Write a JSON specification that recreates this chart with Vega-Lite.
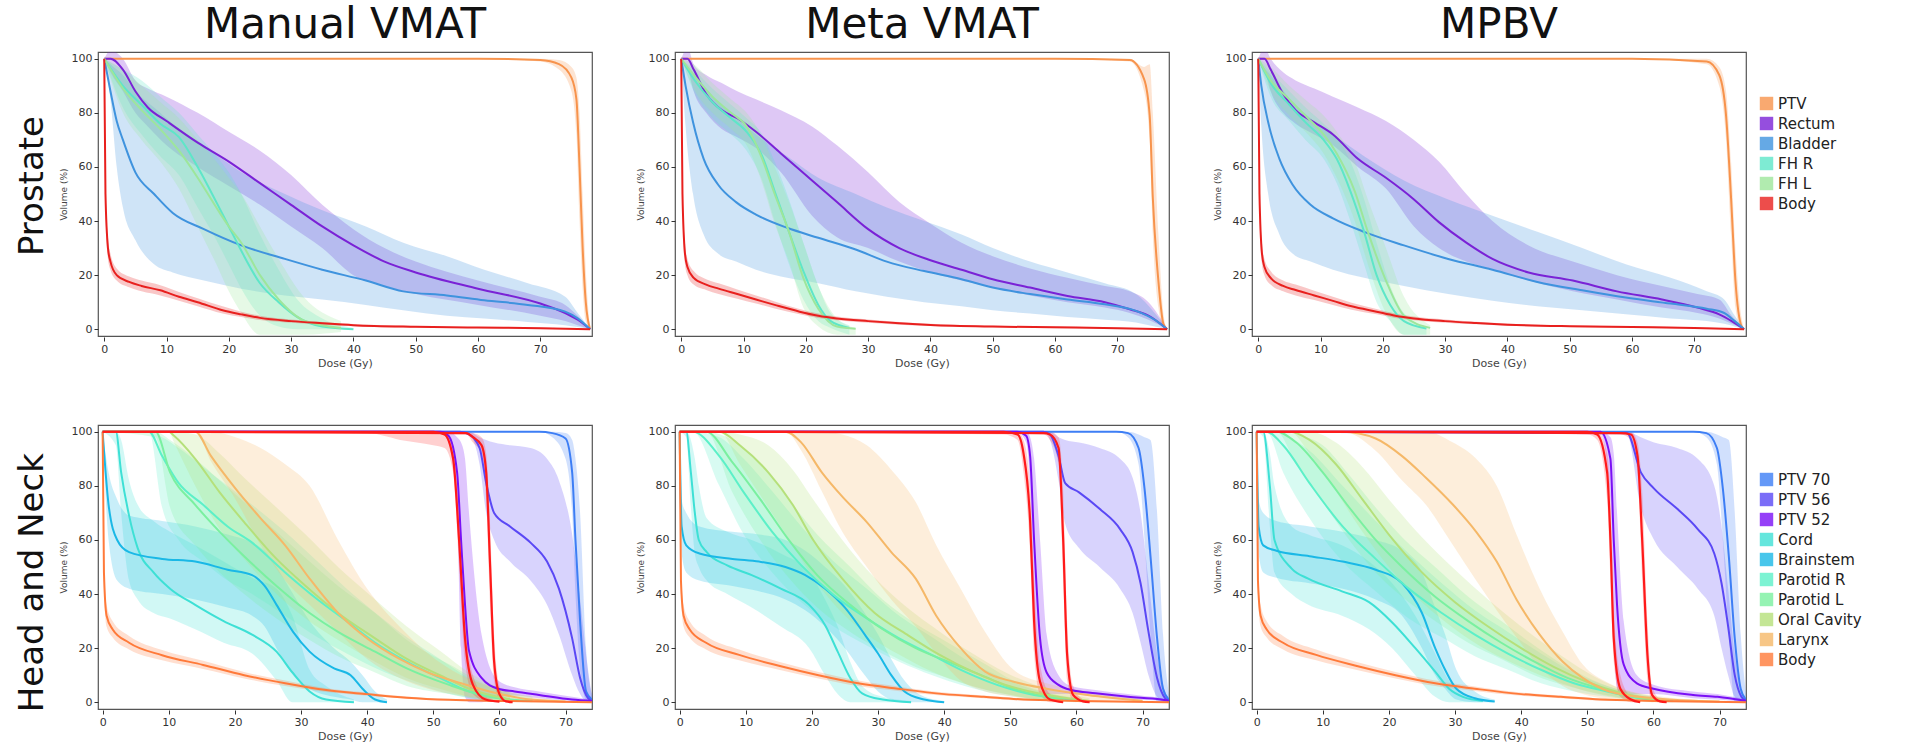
{
"$schema":"https://vega.github.io/schema/vega-lite/v6.json",
"padding":{"left":16,"top":4,"right":2,"bottom":2},
"config":{"font":"DejaVu Sans","view":{"stroke":"#555","strokeWidth":1.2},
"axis":{"grid":false,"domain":false,"labelFontSize":11,"labelColor":"#333","tickColor":"#333","tickSize":4,"titleFontWeight":"normal","titleColor":"#444"},
"header":{"labelFont":"DejaVu Sans","labelColor":"#111"},
"title":{"font":"DejaVu Sans","fontWeight":"normal","color":"#111"},
"legend":{"labelFont":"DejaVu Sans","labelColor":"#222"}},
"datasets":{
"pro":[
{"p":1,"s":"PTV","d":0,"v":100,"l":100,"h":100},{"p":1,"s":"PTV","d":60,"v":100,"l":100,"h":100},{"p":1,"s":"PTV","d":70,"v":99.5,"l":99,"h":100},{"p":1,"s":"PTV","d":73,"v":98,"l":96,"h":99.5},{"p":1,"s":"PTV","d":75,"v":93,"l":88,"h":97},{"p":1,"s":"PTV","d":75.8,"v":85,"l":72,"h":93},{"p":1,"s":"PTV","d":76.3,"v":60,"l":40,"h":80},{"p":1,"s":"PTV","d":76.8,"v":30,"l":15,"h":50},{"p":1,"s":"PTV","d":77.3,"v":10,"l":3,"h":22},{"p":1,"s":"PTV","d":78,"v":0,"l":0,"h":0},
{"p":1,"s":"Rectum","d":0,"v":100,"l":100,"h":100},{"p":1,"s":"Rectum","d":1,"v":100,"l":95,"h":103},{"p":1,"s":"Rectum","d":3,"v":96,"l":88,"h":100},{"p":1,"s":"Rectum","d":5,"v":88,"l":80,"h":92},{"p":1,"s":"Rectum","d":7,"v":82,"l":75,"h":89},{"p":1,"s":"Rectum","d":10,"v":77,"l":68,"h":86},{"p":1,"s":"Rectum","d":15,"v":69,"l":60,"h":80},{"p":1,"s":"Rectum","d":20,"v":62,"l":53,"h":73},{"p":1,"s":"Rectum","d":25,"v":54,"l":46,"h":66},{"p":1,"s":"Rectum","d":30,"v":46,"l":38,"h":57},{"p":1,"s":"Rectum","d":35,"v":38,"l":30,"h":46},{"p":1,"s":"Rectum","d":40,"v":31,"l":20,"h":37},{"p":1,"s":"Rectum","d":45,"v":25,"l":16,"h":30},{"p":1,"s":"Rectum","d":50,"v":21,"l":13,"h":25},{"p":1,"s":"Rectum","d":60,"v":15,"l":9,"h":18},{"p":1,"s":"Rectum","d":70,"v":9.5,"l":5,"h":12},{"p":1,"s":"Rectum","d":74,"v":6,"l":3,"h":9},{"p":1,"s":"Rectum","d":76,"v":3.5,"l":1.5,"h":5},{"p":1,"s":"Rectum","d":78,"v":0,"l":0,"h":0},
{"p":1,"s":"Bladder","d":0,"v":100,"l":100,"h":100},{"p":1,"s":"Bladder","d":1,"v":88,"l":85,"h":98},{"p":1,"s":"Bladder","d":2,"v":77,"l":60,"h":96},{"p":1,"s":"Bladder","d":3,"v":70,"l":45,"h":94},{"p":1,"s":"Bladder","d":5,"v":58,"l":33,"h":88},{"p":1,"s":"Bladder","d":8,"v":50,"l":24,"h":82},{"p":1,"s":"Bladder","d":11,"v":43,"l":21,"h":76},{"p":1,"s":"Bladder","d":16,"v":37,"l":18,"h":68},{"p":1,"s":"Bladder","d":22,"v":31,"l":15,"h":58},{"p":1,"s":"Bladder","d":29,"v":26,"l":12.5,"h":50},{"p":1,"s":"Bladder","d":35,"v":22,"l":11,"h":44},{"p":1,"s":"Bladder","d":42,"v":18,"l":9,"h":38},{"p":1,"s":"Bladder","d":48,"v":14,"l":7,"h":32},{"p":1,"s":"Bladder","d":55,"v":12.5,"l":5,"h":27},{"p":1,"s":"Bladder","d":61,"v":10.7,"l":4,"h":22},{"p":1,"s":"Bladder","d":68,"v":9,"l":2.7,"h":17},{"p":1,"s":"Bladder","d":74,"v":6.5,"l":1.5,"h":12},{"p":1,"s":"Bladder","d":76,"v":4,"l":0.8,"h":6},{"p":1,"s":"Bladder","d":78,"v":0,"l":0,"h":0},
{"p":1,"s":"FH R","d":0,"v":100,"l":100,"h":100},{"p":1,"s":"FH R","d":3,"v":90,"l":82,"h":96},{"p":1,"s":"FH R","d":6,"v":83,"l":72,"h":92},{"p":1,"s":"FH R","d":9,"v":76,"l":64,"h":86},{"p":1,"s":"FH R","d":12,"v":71,"l":57,"h":80},{"p":1,"s":"FH R","d":15,"v":60,"l":45,"h":72},{"p":1,"s":"FH R","d":18,"v":47,"l":33,"h":64},{"p":1,"s":"FH R","d":20,"v":38,"l":24,"h":58},{"p":1,"s":"FH R","d":22,"v":29,"l":15,"h":50},{"p":1,"s":"FH R","d":25,"v":17,"l":5,"h":35},{"p":1,"s":"FH R","d":28,"v":10,"l":1,"h":22},{"p":1,"s":"FH R","d":31,"v":4.5,"l":0,"h":11},{"p":1,"s":"FH R","d":35,"v":1,"l":0,"h":4},{"p":1,"s":"FH R","d":40,"v":0,"l":0,"h":0.5},
{"p":1,"s":"FH L","d":0,"v":100,"l":100,"h":100},{"p":1,"s":"FH L","d":3,"v":89,"l":80,"h":96},{"p":1,"s":"FH L","d":6,"v":81,"l":70,"h":90},{"p":1,"s":"FH L","d":9,"v":74,"l":62,"h":84},{"p":1,"s":"FH L","d":12,"v":66,"l":52,"h":78},{"p":1,"s":"FH L","d":15,"v":56,"l":38,"h":70},{"p":1,"s":"FH L","d":18,"v":45,"l":24,"h":62},{"p":1,"s":"FH L","d":20,"v":38,"l":14,"h":56},{"p":1,"s":"FH L","d":22,"v":32,"l":6,"h":50},{"p":1,"s":"FH L","d":25,"v":20,"l":-2,"h":38},{"p":1,"s":"FH L","d":28,"v":11,"l":-2,"h":26},{"p":1,"s":"FH L","d":32,"v":3.3,"l":-2,"h":12},{"p":1,"s":"FH L","d":38,"v":0.5,"l":-1,"h":3},
{"p":1,"s":"Body","d":0,"v":100,"l":100,"h":100},{"p":1,"s":"Body","d":0.2,"v":50,"l":45,"h":55},{"p":1,"s":"Body","d":0.6,"v":30,"l":26,"h":34},{"p":1,"s":"Body","d":1,"v":25,"l":22,"h":28},{"p":1,"s":"Body","d":2,"v":20,"l":18,"h":22.5},{"p":1,"s":"Body","d":4,"v":17.5,"l":15.5,"h":19.5},{"p":1,"s":"Body","d":6,"v":16,"l":14,"h":18},{"p":1,"s":"Body","d":9,"v":14.4,"l":12.5,"h":16.3},{"p":1,"s":"Body","d":12,"v":12,"l":10.5,"h":13.8},{"p":1,"s":"Body","d":15,"v":10,"l":8.5,"h":11.5},{"p":1,"s":"Body","d":19,"v":7,"l":5.8,"h":8.5},{"p":1,"s":"Body","d":22,"v":5.5,"l":4.5,"h":6.5},{"p":1,"s":"Body","d":25,"v":4.2,"l":3.4,"h":5},{"p":1,"s":"Body","d":30,"v":3,"l":2.4,"h":3.6},{"p":1,"s":"Body","d":35,"v":2.2,"l":1.7,"h":2.7},{"p":1,"s":"Body","d":40,"v":1.5,"l":1.1,"h":1.9},{"p":1,"s":"Body","d":50,"v":0.9,"l":0.6,"h":1.2},{"p":1,"s":"Body","d":60,"v":0.6,"l":0.4,"h":0.8},{"p":1,"s":"Body","d":70,"v":0.4,"l":0.2,"h":0.6},{"p":1,"s":"Body","d":78,"v":0,"l":0,"h":0},
{"p":2,"s":"PTV","d":0,"v":100,"l":100,"h":100},{"p":2,"s":"PTV","d":60,"v":100,"l":100,"h":100},{"p":2,"s":"PTV","d":72,"v":99.5,"l":99,"h":100},{"p":2,"s":"PTV","d":74.3,"v":92.5,"l":88,"h":97},{"p":2,"s":"PTV","d":75.2,"v":79,"l":70,"h":98},{"p":2,"s":"PTV","d":75.7,"v":48.6,"l":35,"h":80},{"p":2,"s":"PTV","d":76.6,"v":17.8,"l":8,"h":35},{"p":2,"s":"PTV","d":77.4,"v":2,"l":0.5,"h":6},{"p":2,"s":"PTV","d":78,"v":0,"l":0,"h":0},
{"p":2,"s":"Rectum","d":0,"v":100,"l":100,"h":100},{"p":2,"s":"Rectum","d":1,"v":100,"l":97,"h":104},{"p":2,"s":"Rectum","d":2,"v":96,"l":88,"h":98},{"p":2,"s":"Rectum","d":4,"v":87,"l":80,"h":94},{"p":2,"s":"Rectum","d":6.5,"v":81,"l":74,"h":91},{"p":2,"s":"Rectum","d":9,"v":78,"l":71,"h":88},{"p":2,"s":"Rectum","d":12,"v":73,"l":67,"h":85},{"p":2,"s":"Rectum","d":16,"v":65,"l":58,"h":81},{"p":2,"s":"Rectum","d":21,"v":55,"l":42,"h":75},{"p":2,"s":"Rectum","d":25,"v":47,"l":34,"h":68},{"p":2,"s":"Rectum","d":30,"v":37,"l":30,"h":58},{"p":2,"s":"Rectum","d":35,"v":30,"l":25,"h":47},{"p":2,"s":"Rectum","d":40,"v":25.5,"l":21,"h":39},{"p":2,"s":"Rectum","d":45,"v":22,"l":18,"h":32},{"p":2,"s":"Rectum","d":50,"v":18.5,"l":15.5,"h":27},{"p":2,"s":"Rectum","d":56,"v":15.4,"l":12.5,"h":22.5},{"p":2,"s":"Rectum","d":62,"v":12.3,"l":10,"h":19},{"p":2,"s":"Rectum","d":68,"v":10,"l":8,"h":16},{"p":2,"s":"Rectum","d":72,"v":7.4,"l":6,"h":14},{"p":2,"s":"Rectum","d":75,"v":5,"l":3.5,"h":10},{"p":2,"s":"Rectum","d":78,"v":0,"l":0,"h":0},
{"p":2,"s":"Bladder","d":0,"v":100,"l":100,"h":100},{"p":2,"s":"Bladder","d":0.7,"v":90,"l":75,"h":98},{"p":2,"s":"Bladder","d":1.9,"v":76.5,"l":50,"h":95},{"p":2,"s":"Bladder","d":3.6,"v":63,"l":35,"h":90},{"p":2,"s":"Bladder","d":5.9,"v":53.5,"l":28,"h":84},{"p":2,"s":"Bladder","d":8.8,"v":47,"l":25,"h":78},{"p":2,"s":"Bladder","d":12,"v":42.4,"l":22,"h":72},{"p":2,"s":"Bladder","d":17,"v":37.5,"l":19,"h":64},{"p":2,"s":"Bladder","d":22,"v":33.8,"l":17,"h":56},{"p":2,"s":"Bladder","d":28,"v":29.5,"l":14,"h":50},{"p":2,"s":"Bladder","d":33,"v":25,"l":12,"h":45},{"p":2,"s":"Bladder","d":39,"v":21.5,"l":10,"h":40},{"p":2,"s":"Bladder","d":45,"v":18.5,"l":8.5,"h":35},{"p":2,"s":"Bladder","d":50,"v":15.4,"l":7,"h":30},{"p":2,"s":"Bladder","d":56,"v":13,"l":5.8,"h":25},{"p":2,"s":"Bladder","d":62,"v":11,"l":4.5,"h":21},{"p":2,"s":"Bladder","d":68,"v":9.2,"l":3.5,"h":17},{"p":2,"s":"Bladder","d":73,"v":6.8,"l":2.5,"h":13},{"p":2,"s":"Bladder","d":76,"v":3.5,"l":1,"h":6},{"p":2,"s":"Bladder","d":78,"v":0,"l":0,"h":0},
{"p":2,"s":"FH R","d":0,"v":100,"l":100,"h":100},{"p":2,"s":"FH R","d":2,"v":92.5,"l":88,"h":96},{"p":2,"s":"FH R","d":5,"v":84,"l":78,"h":89},{"p":2,"s":"FH R","d":8,"v":78,"l":72,"h":83},{"p":2,"s":"FH R","d":10.5,"v":73,"l":66,"h":78},{"p":2,"s":"FH R","d":13,"v":64,"l":55,"h":72},{"p":2,"s":"FH R","d":15,"v":51,"l":40,"h":62},{"p":2,"s":"FH R","d":17.3,"v":36,"l":24,"h":48},{"p":2,"s":"FH R","d":19.6,"v":21.5,"l":11,"h":32},{"p":2,"s":"FH R","d":22,"v":9,"l":3,"h":16},{"p":2,"s":"FH R","d":24,"v":3,"l":0.5,"h":6},{"p":2,"s":"FH R","d":27,"v":0.5,"l":-2,"h":1.5},
{"p":2,"s":"FH L","d":0,"v":100,"l":100,"h":100},{"p":2,"s":"FH L","d":2,"v":94,"l":89,"h":98},{"p":2,"s":"FH L","d":5,"v":86,"l":80,"h":91},{"p":2,"s":"FH L","d":8,"v":80,"l":74,"h":85},{"p":2,"s":"FH L","d":10.5,"v":75,"l":68,"h":80},{"p":2,"s":"FH L","d":13,"v":63,"l":54,"h":71},{"p":2,"s":"FH L","d":15,"v":50,"l":39,"h":60},{"p":2,"s":"FH L","d":17.3,"v":36,"l":25,"h":47},{"p":2,"s":"FH L","d":19.6,"v":19,"l":8,"h":32},{"p":2,"s":"FH L","d":22,"v":7.6,"l":1,"h":16},{"p":2,"s":"FH L","d":25,"v":1,"l":-2,"h":4},{"p":2,"s":"FH L","d":28,"v":0.2,"l":-2,"h":0.5},
{"p":2,"s":"Body","d":0,"v":100,"l":100,"h":100},{"p":2,"s":"Body","d":0.2,"v":50,"l":45,"h":55},{"p":2,"s":"Body","d":0.6,"v":28,"l":24,"h":32},{"p":2,"s":"Body","d":1,"v":23,"l":20,"h":26},{"p":2,"s":"Body","d":2,"v":19,"l":16.5,"h":21.5},{"p":2,"s":"Body","d":4,"v":16.5,"l":14.5,"h":18.5},{"p":2,"s":"Body","d":6,"v":15,"l":13,"h":17},{"p":2,"s":"Body","d":9,"v":13,"l":11.3,"h":14.7},{"p":2,"s":"Body","d":12,"v":11,"l":9.5,"h":12.5},{"p":2,"s":"Body","d":15,"v":9,"l":7.7,"h":10.3},{"p":2,"s":"Body","d":19,"v":6.5,"l":5.5,"h":7.5},{"p":2,"s":"Body","d":22,"v":5,"l":4.2,"h":5.8},{"p":2,"s":"Body","d":25,"v":4,"l":3.3,"h":4.7},{"p":2,"s":"Body","d":30,"v":3,"l":2.4,"h":3.6},{"p":2,"s":"Body","d":35,"v":2.2,"l":1.7,"h":2.7},{"p":2,"s":"Body","d":40,"v":1.6,"l":1.2,"h":2},{"p":2,"s":"Body","d":50,"v":1,"l":0.7,"h":1.3},{"p":2,"s":"Body","d":60,"v":0.7,"l":0.4,"h":0.9},{"p":2,"s":"Body","d":70,"v":0.4,"l":0.2,"h":0.6},{"p":2,"s":"Body","d":78,"v":0,"l":0,"h":0},
{"p":3,"s":"PTV","d":0,"v":100,"l":100,"h":100},{"p":3,"s":"PTV","d":60,"v":100,"l":100,"h":100},{"p":3,"s":"PTV","d":72,"v":99,"l":98,"h":100},{"p":3,"s":"PTV","d":74,"v":94,"l":90,"h":97},{"p":3,"s":"PTV","d":75.1,"v":79,"l":70,"h":88},{"p":3,"s":"PTV","d":75.9,"v":48.6,"l":35,"h":62},{"p":3,"s":"PTV","d":76.6,"v":18,"l":8,"h":30},{"p":3,"s":"PTV","d":77.6,"v":1,"l":0,"h":4},{"p":3,"s":"PTV","d":78,"v":0,"l":0,"h":0},
{"p":3,"s":"Rectum","d":0,"v":100,"l":100,"h":100},{"p":3,"s":"Rectum","d":1,"v":100,"l":96,"h":104},{"p":3,"s":"Rectum","d":2,"v":96,"l":88,"h":100},{"p":3,"s":"Rectum","d":4,"v":87,"l":80,"h":95},{"p":3,"s":"Rectum","d":6,"v":81,"l":76,"h":92},{"p":3,"s":"Rectum","d":9,"v":76.5,"l":72,"h":89},{"p":3,"s":"Rectum","d":12,"v":72,"l":68,"h":86},{"p":3,"s":"Rectum","d":16,"v":63,"l":60,"h":82},{"p":3,"s":"Rectum","d":20.5,"v":56,"l":52,"h":77},{"p":3,"s":"Rectum","d":25,"v":48,"l":38,"h":70},{"p":3,"s":"Rectum","d":29,"v":39.6,"l":30,"h":62},{"p":3,"s":"Rectum","d":33.4,"v":32,"l":25,"h":50},{"p":3,"s":"Rectum","d":37.6,"v":26,"l":22,"h":40},{"p":3,"s":"Rectum","d":43.4,"v":21,"l":18,"h":31},{"p":3,"s":"Rectum","d":50.5,"v":18,"l":14,"h":25},{"p":3,"s":"Rectum","d":57.6,"v":14,"l":11,"h":20},{"p":3,"s":"Rectum","d":64.8,"v":11,"l":8,"h":16},{"p":3,"s":"Rectum","d":70.5,"v":8,"l":6,"h":13},{"p":3,"s":"Rectum","d":74,"v":5.5,"l":4,"h":11},{"p":3,"s":"Rectum","d":76,"v":3,"l":2,"h":5},{"p":3,"s":"Rectum","d":78,"v":0,"l":0,"h":0},
{"p":3,"s":"Bladder","d":0,"v":100,"l":100,"h":100},{"p":3,"s":"Bladder","d":0.5,"v":90,"l":75,"h":98},{"p":3,"s":"Bladder","d":1.6,"v":76.5,"l":50,"h":95},{"p":3,"s":"Bladder","d":3.4,"v":63,"l":35,"h":90},{"p":3,"s":"Bladder","d":5.5,"v":53.5,"l":28,"h":84},{"p":3,"s":"Bladder","d":8.4,"v":46,"l":25,"h":78},{"p":3,"s":"Bladder","d":12,"v":41,"l":22,"h":72},{"p":3,"s":"Bladder","d":17,"v":36,"l":19,"h":64},{"p":3,"s":"Bladder","d":23.4,"v":31,"l":16,"h":55},{"p":3,"s":"Bladder","d":30.5,"v":26,"l":13,"h":48},{"p":3,"s":"Bladder","d":37.6,"v":22,"l":10.5,"h":42},{"p":3,"s":"Bladder","d":44.8,"v":17.5,"l":8.5,"h":36},{"p":3,"s":"Bladder","d":52,"v":14.4,"l":7,"h":30},{"p":3,"s":"Bladder","d":59,"v":11.7,"l":5.5,"h":24},{"p":3,"s":"Bladder","d":66.2,"v":9.5,"l":4,"h":19},{"p":3,"s":"Bladder","d":72,"v":7.6,"l":3,"h":14},{"p":3,"s":"Bladder","d":74.8,"v":6,"l":2,"h":11},{"p":3,"s":"Bladder","d":76.5,"v":3,"l":1,"h":5},{"p":3,"s":"Bladder","d":78,"v":0,"l":0,"h":0},
{"p":3,"s":"FH R","d":0,"v":100,"l":100,"h":100},{"p":3,"s":"FH R","d":2,"v":91,"l":86,"h":95},{"p":3,"s":"FH R","d":5,"v":83,"l":77,"h":88},{"p":3,"s":"FH R","d":7.6,"v":76.5,"l":70,"h":82},{"p":3,"s":"FH R","d":10.5,"v":70,"l":63,"h":76},{"p":3,"s":"FH R","d":12.6,"v":63,"l":54,"h":71},{"p":3,"s":"FH R","d":14.8,"v":51,"l":40,"h":62},{"p":3,"s":"FH R","d":17,"v":36,"l":24,"h":48},{"p":3,"s":"FH R","d":19,"v":20,"l":10,"h":32},{"p":3,"s":"FH R","d":21.2,"v":9,"l":3,"h":16},{"p":3,"s":"FH R","d":23.4,"v":3,"l":-2,"h":6},{"p":3,"s":"FH R","d":27,"v":0.3,"l":-2,"h":1},
{"p":3,"s":"FH L","d":0,"v":100,"l":100,"h":100},{"p":3,"s":"FH L","d":2,"v":92,"l":88,"h":97},{"p":3,"s":"FH L","d":5,"v":85,"l":79,"h":90},{"p":3,"s":"FH L","d":8,"v":78,"l":72,"h":84},{"p":3,"s":"FH L","d":10.5,"v":72,"l":65,"h":79},{"p":3,"s":"FH L","d":12.6,"v":65,"l":56,"h":73},{"p":3,"s":"FH L","d":15.5,"v":51,"l":40,"h":62},{"p":3,"s":"FH L","d":17.6,"v":36,"l":24,"h":48},{"p":3,"s":"FH L","d":20.5,"v":18,"l":6,"h":30},{"p":3,"s":"FH L","d":23.4,"v":5,"l":-2,"h":12},{"p":3,"s":"FH L","d":27.6,"v":0.5,"l":-2,"h":1.5},
{"p":3,"s":"Body","d":0,"v":100,"l":100,"h":100},{"p":3,"s":"Body","d":0.2,"v":50,"l":45,"h":55},{"p":3,"s":"Body","d":0.6,"v":28,"l":24,"h":32},{"p":3,"s":"Body","d":1,"v":23,"l":20,"h":26},{"p":3,"s":"Body","d":2,"v":19,"l":16.5,"h":21.5},{"p":3,"s":"Body","d":4,"v":16,"l":14,"h":18},{"p":3,"s":"Body","d":6,"v":14.5,"l":12.5,"h":16.5},{"p":3,"s":"Body","d":9,"v":12.5,"l":10.8,"h":14.2},{"p":3,"s":"Body","d":12,"v":10.5,"l":9,"h":12},{"p":3,"s":"Body","d":15,"v":8.5,"l":7.2,"h":9.8},{"p":3,"s":"Body","d":19,"v":6.5,"l":5.5,"h":7.5},{"p":3,"s":"Body","d":22,"v":5,"l":4.2,"h":5.8},{"p":3,"s":"Body","d":25,"v":4,"l":3.3,"h":4.7},{"p":3,"s":"Body","d":30,"v":3,"l":2.4,"h":3.6},{"p":3,"s":"Body","d":35,"v":2.3,"l":1.8,"h":2.8},{"p":3,"s":"Body","d":40,"v":1.7,"l":1.3,"h":2.1},{"p":3,"s":"Body","d":50,"v":1.1,"l":0.8,"h":1.4},{"p":3,"s":"Body","d":60,"v":0.8,"l":0.5,"h":1},{"p":3,"s":"Body","d":70,"v":0.5,"l":0.3,"h":0.7},{"p":3,"s":"Body","d":78,"v":0,"l":0,"h":0}
],
"hn":[
{"p":1,"s":"PTV 70","d":0,"v":100,"l":100,"h":100},{"p":1,"s":"PTV 70","d":66,"v":100,"l":100,"h":100},{"p":1,"s":"PTV 70","d":68,"v":99.5,"l":98,"h":100},{"p":1,"s":"PTV 70","d":70,"v":97.5,"l":90,"h":99.5},{"p":1,"s":"PTV 70","d":71,"v":85,"l":70,"h":97},{"p":1,"s":"PTV 70","d":71.5,"v":60,"l":40,"h":90},{"p":1,"s":"PTV 70","d":72.2,"v":30,"l":12,"h":70},{"p":1,"s":"PTV 70","d":73.1,"v":4,"l":1,"h":20},{"p":1,"s":"PTV 70","d":74,"v":1,"l":0,"h":3},
{"p":1,"s":"PTV 56","d":0,"v":100,"l":100,"h":100},{"p":1,"s":"PTV 56","d":54,"v":100,"l":100,"h":100},{"p":1,"s":"PTV 56","d":55.4,"v":99,"l":99,"h":100},{"p":1,"s":"PTV 56","d":57,"v":94,"l":88,"h":98},{"p":1,"s":"PTV 56","d":58,"v":81,"l":70,"h":97},{"p":1,"s":"PTV 56","d":59.2,"v":70,"l":60,"h":96},{"p":1,"s":"PTV 56","d":61.6,"v":65,"l":52,"h":95},{"p":1,"s":"PTV 56","d":64.7,"v":59,"l":45,"h":94},{"p":1,"s":"PTV 56","d":67.2,"v":52,"l":36,"h":90},{"p":1,"s":"PTV 56","d":69,"v":42,"l":25,"h":82},{"p":1,"s":"PTV 56","d":71,"v":23.6,"l":10,"h":62},{"p":1,"s":"PTV 56","d":72.2,"v":9,"l":3,"h":38},{"p":1,"s":"PTV 56","d":73.4,"v":1.5,"l":0,"h":12},{"p":1,"s":"PTV 56","d":74,"v":0.5,"l":0,"h":2},
{"p":1,"s":"PTV 52","d":0,"v":100,"l":100,"h":100},{"p":1,"s":"PTV 52","d":51,"v":100,"l":100,"h":100},{"p":1,"s":"PTV 52","d":52.3,"v":98.5,"l":96,"h":100},{"p":1,"s":"PTV 52","d":53.6,"v":85,"l":70,"h":98},{"p":1,"s":"PTV 52","d":54.2,"v":60,"l":20,"h":96},{"p":1,"s":"PTV 52","d":54.8,"v":36,"l":2,"h":90},{"p":1,"s":"PTV 52","d":55.4,"v":19,"l":0,"h":70},{"p":1,"s":"PTV 52","d":57.3,"v":9,"l":0,"h":25},{"p":1,"s":"PTV 52","d":59.8,"v":5,"l":2,"h":8},{"p":1,"s":"PTV 52","d":62.3,"v":4,"l":2.5,"h":5.5},{"p":1,"s":"PTV 52","d":66,"v":2.7,"l":1.5,"h":4},{"p":1,"s":"PTV 52","d":71,"v":1,"l":0.5,"h":2},{"p":1,"s":"PTV 52","d":74,"v":0.5,"l":0,"h":1},
{"p":1,"s":"R1","d":0,"v":100,"l":100,"h":100},{"p":1,"s":"R1","d":40,"v":100,"l":99.5,"h":100},{"p":1,"s":"R1","d":45,"v":100,"l":97,"h":100},{"p":1,"s":"R1","d":50,"v":100,"l":95,"h":100},{"p":1,"s":"R1","d":51.7,"v":99,"l":94,"h":100},{"p":1,"s":"R1","d":53,"v":90,"l":85,"h":95},{"p":1,"s":"R1","d":53.9,"v":60,"l":50,"h":70},{"p":1,"s":"R1","d":54.8,"v":23.6,"l":15,"h":32},{"p":1,"s":"R1","d":56,"v":6.4,"l":3,"h":10},{"p":1,"s":"R1","d":57.9,"v":1,"l":0.5,"h":2},{"p":1,"s":"R1","d":60,"v":0.2,"l":0,"h":0.5},
{"p":1,"s":"R2","d":0,"v":100,"l":100,"h":100},{"p":1,"s":"R2","d":55,"v":99.5,"l":99,"h":100},{"p":1,"s":"R2","d":56,"v":98,"l":96,"h":99.5},{"p":1,"s":"R2","d":57.3,"v":95,"l":92,"h":98},{"p":1,"s":"R2","d":58,"v":85,"l":75,"h":92},{"p":1,"s":"R2","d":58.6,"v":50,"l":35,"h":65},{"p":1,"s":"R2","d":59.2,"v":15,"l":8,"h":25},{"p":1,"s":"R2","d":60,"v":3,"l":1,"h":6},{"p":1,"s":"R2","d":61,"v":0.3,"l":0,"h":1},{"p":1,"s":"R2","d":62,"v":0,"l":0,"h":0},
{"p":1,"s":"Cord","d":0,"v":100,"l":100,"h":100},{"p":1,"s":"Cord","d":2,"v":100,"l":95,"h":100},{"p":1,"s":"Cord","d":2.8,"v":85,"l":70,"h":97},{"p":1,"s":"Cord","d":4,"v":69,"l":45,"h":82},{"p":1,"s":"Cord","d":5.3,"v":57,"l":38,"h":73},{"p":1,"s":"Cord","d":7.7,"v":48,"l":33,"h":67},{"p":1,"s":"Cord","d":10.2,"v":42,"l":31,"h":63},{"p":1,"s":"Cord","d":14,"v":36,"l":27,"h":58},{"p":1,"s":"Cord","d":18.3,"v":30,"l":22,"h":52},{"p":1,"s":"Cord","d":22.6,"v":25,"l":18,"h":46},{"p":1,"s":"Cord","d":26.3,"v":18.7,"l":8,"h":42},{"p":1,"s":"Cord","d":28.7,"v":11,"l":0,"h":32},{"p":1,"s":"Cord","d":31.3,"v":4,"l":0,"h":12},{"p":1,"s":"Cord","d":33.8,"v":1,"l":0,"h":6},{"p":1,"s":"Cord","d":38,"v":0,"l":0,"h":1},
{"p":1,"s":"Brainstem","d":0,"v":100,"l":100,"h":100},{"p":1,"s":"Brainstem","d":0.9,"v":73,"l":60,"h":85},{"p":1,"s":"Brainstem","d":2.2,"v":60,"l":45,"h":75},{"p":1,"s":"Brainstem","d":4,"v":55.5,"l":42,"h":69},{"p":1,"s":"Brainstem","d":9,"v":53,"l":40,"h":67},{"p":1,"s":"Brainstem","d":14,"v":52,"l":38,"h":65},{"p":1,"s":"Brainstem","d":18.9,"v":49,"l":35,"h":62},{"p":1,"s":"Brainstem","d":22.6,"v":47,"l":32,"h":59},{"p":1,"s":"Brainstem","d":24.5,"v":43,"l":28,"h":56},{"p":1,"s":"Brainstem","d":26.3,"v":36,"l":20,"h":50},{"p":1,"s":"Brainstem","d":28.8,"v":26,"l":10,"h":40},{"p":1,"s":"Brainstem","d":31.3,"v":18.7,"l":5,"h":30},{"p":1,"s":"Brainstem","d":35,"v":12.5,"l":2,"h":20},{"p":1,"s":"Brainstem","d":37.5,"v":10,"l":1,"h":15},{"p":1,"s":"Brainstem","d":39.3,"v":5,"l":0,"h":10},{"p":1,"s":"Brainstem","d":41.2,"v":1,"l":0,"h":4},{"p":1,"s":"Brainstem","d":43,"v":0,"l":0,"h":1},
{"p":1,"s":"Parotid R","d":0,"v":100,"l":100,"h":100},{"p":1,"s":"Parotid R","d":7,"v":100,"l":100,"h":100},{"p":1,"s":"Parotid R","d":9,"v":91,"l":72,"h":98},{"p":1,"s":"Parotid R","d":11.5,"v":81,"l":60,"h":94},{"p":1,"s":"Parotid R","d":15.2,"v":73,"l":52,"h":87},{"p":1,"s":"Parotid R","d":18.9,"v":65,"l":45,"h":80},{"p":1,"s":"Parotid R","d":22.6,"v":59,"l":40,"h":73},{"p":1,"s":"Parotid R","d":27.6,"v":48,"l":32,"h":63},{"p":1,"s":"Parotid R","d":32.5,"v":38,"l":24,"h":52},{"p":1,"s":"Parotid R","d":36.9,"v":30,"l":18,"h":42},{"p":1,"s":"Parotid R","d":41.8,"v":21,"l":12,"h":32},{"p":1,"s":"Parotid R","d":46,"v":15,"l":8,"h":24},{"p":1,"s":"Parotid R","d":51,"v":9,"l":4,"h":16},{"p":1,"s":"Parotid R","d":55.4,"v":4,"l":1.5,"h":9},{"p":1,"s":"Parotid R","d":61.6,"v":1,"l":0,"h":3},
{"p":1,"s":"Parotid L","d":0,"v":100,"l":100,"h":100},{"p":1,"s":"Parotid L","d":8,"v":100,"l":98,"h":100},{"p":1,"s":"Parotid L","d":10.2,"v":85,"l":72,"h":97},{"p":1,"s":"Parotid L","d":14,"v":73,"l":58,"h":90},{"p":1,"s":"Parotid L","d":17.7,"v":63,"l":48,"h":82},{"p":1,"s":"Parotid L","d":21.4,"v":54,"l":40,"h":74},{"p":1,"s":"Parotid L","d":26.3,"v":43,"l":31,"h":63},{"p":1,"s":"Parotid L","d":31.3,"v":33,"l":23,"h":52},{"p":1,"s":"Parotid L","d":35.6,"v":26,"l":17,"h":43},{"p":1,"s":"Parotid L","d":41.2,"v":18.7,"l":11,"h":33},{"p":1,"s":"Parotid L","d":46,"v":12.5,"l":6,"h":23},{"p":1,"s":"Parotid L","d":52.4,"v":6.4,"l":3,"h":14},{"p":1,"s":"Parotid L","d":58.5,"v":2,"l":0.5,"h":6},{"p":1,"s":"Parotid L","d":65,"v":0.5,"l":0,"h":2},
{"p":1,"s":"Oral Cavity","d":0,"v":100,"l":100,"h":100},{"p":1,"s":"Oral Cavity","d":10,"v":100,"l":100,"h":100},{"p":1,"s":"Oral Cavity","d":10.8,"v":98.5,"l":96,"h":100},{"p":1,"s":"Oral Cavity","d":14,"v":90,"l":80,"h":99},{"p":1,"s":"Oral Cavity","d":17.7,"v":77.6,"l":64,"h":92},{"p":1,"s":"Oral Cavity","d":21.4,"v":66.6,"l":53,"h":83},{"p":1,"s":"Oral Cavity","d":26.3,"v":53,"l":40,"h":72},{"p":1,"s":"Oral Cavity","d":30.7,"v":43,"l":31,"h":62},{"p":1,"s":"Oral Cavity","d":35.6,"v":33,"l":23,"h":50},{"p":1,"s":"Oral Cavity","d":41.2,"v":23.6,"l":15,"h":38},{"p":1,"s":"Oral Cavity","d":46,"v":16,"l":9,"h":28},{"p":1,"s":"Oral Cavity","d":51,"v":10,"l":5,"h":19},{"p":1,"s":"Oral Cavity","d":55.4,"v":5,"l":2,"h":11},{"p":1,"s":"Oral Cavity","d":61.6,"v":1,"l":0,"h":4},
{"p":1,"s":"Larynx","d":0,"v":100,"l":100,"h":100},{"p":1,"s":"Larynx","d":14,"v":100,"l":100,"h":100},{"p":1,"s":"Larynx","d":16.4,"v":91,"l":89,"h":100},{"p":1,"s":"Larynx","d":20.1,"v":79,"l":75,"h":98},{"p":1,"s":"Larynx","d":23.9,"v":68,"l":58,"h":94},{"p":1,"s":"Larynx","d":27.6,"v":58,"l":45,"h":88},{"p":1,"s":"Larynx","d":31.3,"v":45.7,"l":36,"h":80},{"p":1,"s":"Larynx","d":35.6,"v":33,"l":26,"h":60},{"p":1,"s":"Larynx","d":40,"v":23.6,"l":16,"h":42},{"p":1,"s":"Larynx","d":44.9,"v":16,"l":9,"h":28},{"p":1,"s":"Larynx","d":49.2,"v":11,"l":5,"h":18},{"p":1,"s":"Larynx","d":54.2,"v":7,"l":2.5,"h":10},{"p":1,"s":"Larynx","d":58.5,"v":4,"l":1,"h":6},{"p":1,"s":"Larynx","d":64.7,"v":1,"l":0,"h":2},{"p":1,"s":"Larynx","d":70,"v":0.3,"l":0,"h":0.5},
{"p":1,"s":"Body","d":0,"v":100,"l":100,"h":100},{"p":1,"s":"Body","d":0.2,"v":48,"l":42,"h":54},{"p":1,"s":"Body","d":0.6,"v":32,"l":28,"h":36},{"p":1,"s":"Body","d":1.5,"v":27,"l":24,"h":30},{"p":1,"s":"Body","d":4,"v":22,"l":19.5,"h":24.5},{"p":1,"s":"Body","d":9,"v":17.4,"l":15.5,"h":19.3},{"p":1,"s":"Body","d":15.2,"v":13.8,"l":12.3,"h":15.3},{"p":1,"s":"Body","d":21.4,"v":10,"l":8.8,"h":11.2},{"p":1,"s":"Body","d":27.6,"v":7,"l":6,"h":8},{"p":1,"s":"Body","d":33.8,"v":4.5,"l":3.8,"h":5.2},{"p":1,"s":"Body","d":40,"v":3,"l":2.4,"h":3.6},{"p":1,"s":"Body","d":46,"v":1.7,"l":1.3,"h":2.1},{"p":1,"s":"Body","d":52.4,"v":0.9,"l":0.6,"h":1.2},{"p":1,"s":"Body","d":60,"v":0.5,"l":0.3,"h":0.7},{"p":1,"s":"Body","d":74,"v":0,"l":0,"h":0},
{"p":2,"s":"PTV 70","d":0,"v":100,"l":100,"h":100},{"p":2,"s":"PTV 70","d":66,"v":100,"l":100,"h":100},{"p":2,"s":"PTV 70","d":67.8,"v":99.5,"l":98,"h":100},{"p":2,"s":"PTV 70","d":69.4,"v":94,"l":88,"h":99},{"p":2,"s":"PTV 70","d":70.3,"v":79,"l":60,"h":98},{"p":2,"s":"PTV 70","d":71.2,"v":54,"l":25,"h":97},{"p":2,"s":"PTV 70","d":72.2,"v":23.6,"l":0,"h":70},{"p":2,"s":"PTV 70","d":73.1,"v":5,"l":0,"h":25},{"p":2,"s":"PTV 70","d":74,"v":1,"l":0,"h":3},
{"p":2,"s":"PTV 56","d":0,"v":100,"l":100,"h":100},{"p":2,"s":"PTV 56","d":55,"v":100,"l":100,"h":100},{"p":2,"s":"PTV 56","d":56,"v":99,"l":97,"h":100},{"p":2,"s":"PTV 56","d":57.3,"v":91,"l":82,"h":98},{"p":2,"s":"PTV 56","d":58.3,"v":81,"l":66,"h":97},{"p":2,"s":"PTV 56","d":60.4,"v":77.6,"l":57,"h":96},{"p":2,"s":"PTV 56","d":63.5,"v":71.5,"l":50,"h":94},{"p":2,"s":"PTV 56","d":66.6,"v":64,"l":42,"h":90},{"p":2,"s":"PTV 56","d":68.5,"v":55.5,"l":33,"h":83},{"p":2,"s":"PTV 56","d":69.7,"v":44,"l":22,"h":70},{"p":2,"s":"PTV 56","d":70.9,"v":26,"l":10,"h":45},{"p":2,"s":"PTV 56","d":72.2,"v":9,"l":2,"h":18},{"p":2,"s":"PTV 56","d":73.4,"v":1.5,"l":0,"h":4},{"p":2,"s":"PTV 56","d":74,"v":0.5,"l":0,"h":1},
{"p":2,"s":"PTV 52","d":0,"v":100,"l":100,"h":100},{"p":2,"s":"PTV 52","d":51,"v":100,"l":100,"h":100},{"p":2,"s":"PTV 52","d":52.4,"v":98.5,"l":96,"h":100},{"p":2,"s":"PTV 52","d":53,"v":91,"l":80,"h":98},{"p":2,"s":"PTV 52","d":53.6,"v":60,"l":30,"h":90},{"p":2,"s":"PTV 52","d":54.5,"v":23.6,"l":8,"h":60},{"p":2,"s":"PTV 52","d":55.5,"v":11,"l":3,"h":25},{"p":2,"s":"PTV 52","d":57.3,"v":6.4,"l":3,"h":10},{"p":2,"s":"PTV 52","d":59.2,"v":4.5,"l":3,"h":6},{"p":2,"s":"PTV 52","d":62.9,"v":3.3,"l":2,"h":4.5},{"p":2,"s":"PTV 52","d":67.8,"v":2,"l":1,"h":3},{"p":2,"s":"PTV 52","d":72.8,"v":1,"l":0.5,"h":1.5},{"p":2,"s":"PTV 52","d":74,"v":0.5,"l":0,"h":1},
{"p":2,"s":"R1","d":0,"v":100,"l":100,"h":100},{"p":2,"s":"R1","d":49,"v":100,"l":99,"h":100},{"p":2,"s":"R1","d":51.1,"v":99,"l":97,"h":100},{"p":2,"s":"R1","d":52,"v":92,"l":85,"h":97},{"p":2,"s":"R1","d":53,"v":67,"l":55,"h":80},{"p":2,"s":"R1","d":53.6,"v":30,"l":18,"h":45},{"p":2,"s":"R1","d":54.5,"v":7.6,"l":3,"h":14},{"p":2,"s":"R1","d":56,"v":1,"l":0,"h":3},{"p":2,"s":"R1","d":58,"v":0,"l":0,"h":0.5},
{"p":2,"s":"R2","d":0,"v":100,"l":100,"h":100},{"p":2,"s":"R2","d":55,"v":99.5,"l":99,"h":100},{"p":2,"s":"R2","d":56,"v":99,"l":97,"h":100},{"p":2,"s":"R2","d":57.3,"v":94,"l":88,"h":98},{"p":2,"s":"R2","d":58,"v":60,"l":45,"h":78},{"p":2,"s":"R2","d":58.6,"v":17.4,"l":8,"h":30},{"p":2,"s":"R2","d":59.5,"v":2.7,"l":0.5,"h":6},{"p":2,"s":"R2","d":61,"v":0.3,"l":0,"h":1},{"p":2,"s":"R2","d":62,"v":0,"l":0,"h":0},
{"p":2,"s":"Cord","d":0,"v":100,"l":100,"h":100},{"p":2,"s":"Cord","d":1,"v":100,"l":98,"h":100},{"p":2,"s":"Cord","d":1.7,"v":85,"l":72,"h":97},{"p":2,"s":"Cord","d":2.3,"v":70,"l":55,"h":90},{"p":2,"s":"Cord","d":2.9,"v":60,"l":50,"h":80},{"p":2,"s":"Cord","d":4.1,"v":55.5,"l":45,"h":68},{"p":2,"s":"Cord","d":7.2,"v":50.6,"l":40,"h":63},{"p":2,"s":"Cord","d":10.9,"v":47,"l":35,"h":60},{"p":2,"s":"Cord","d":15.3,"v":42,"l":28,"h":55},{"p":2,"s":"Cord","d":19.6,"v":36,"l":20,"h":48},{"p":2,"s":"Cord","d":22,"v":28.5,"l":10,"h":38},{"p":2,"s":"Cord","d":23.9,"v":18.7,"l":3,"h":28},{"p":2,"s":"Cord","d":25.8,"v":9,"l":0,"h":15},{"p":2,"s":"Cord","d":27.6,"v":3.3,"l":0,"h":6},{"p":2,"s":"Cord","d":30.7,"v":1,"l":0,"h":2},{"p":2,"s":"Cord","d":35,"v":0,"l":0,"h":0.5},
{"p":2,"s":"Brainstem","d":0,"v":100,"l":100,"h":100},{"p":2,"s":"Brainstem","d":0.3,"v":65,"l":55,"h":75},{"p":2,"s":"Brainstem","d":1,"v":58,"l":48,"h":70},{"p":2,"s":"Brainstem","d":3,"v":55,"l":45,"h":65},{"p":2,"s":"Brainstem","d":8,"v":53,"l":43,"h":63},{"p":2,"s":"Brainstem","d":12,"v":52,"l":41,"h":62},{"p":2,"s":"Brainstem","d":16,"v":50,"l":38,"h":60},{"p":2,"s":"Brainstem","d":19,"v":47,"l":34,"h":56},{"p":2,"s":"Brainstem","d":22,"v":42,"l":28,"h":50},{"p":2,"s":"Brainstem","d":25,"v":35,"l":20,"h":43},{"p":2,"s":"Brainstem","d":28,"v":25,"l":10,"h":33},{"p":2,"s":"Brainstem","d":30,"v":18,"l":4,"h":25},{"p":2,"s":"Brainstem","d":32,"v":10,"l":1,"h":16},{"p":2,"s":"Brainstem","d":34,"v":4,"l":0,"h":8},{"p":2,"s":"Brainstem","d":37,"v":1,"l":0,"h":2},{"p":2,"s":"Brainstem","d":40,"v":0,"l":0,"h":0.5},
{"p":2,"s":"Parotid R","d":0,"v":100,"l":100,"h":100},{"p":2,"s":"Parotid R","d":2,"v":100,"l":100,"h":100},{"p":2,"s":"Parotid R","d":6,"v":91,"l":80,"h":98},{"p":2,"s":"Parotid R","d":9.7,"v":77.6,"l":62,"h":90},{"p":2,"s":"Parotid R","d":14,"v":63,"l":48,"h":78},{"p":2,"s":"Parotid R","d":18.4,"v":50.6,"l":37,"h":65},{"p":2,"s":"Parotid R","d":23.3,"v":39.6,"l":28,"h":52},{"p":2,"s":"Parotid R","d":28.3,"v":31,"l":21,"h":42},{"p":2,"s":"Parotid R","d":33.2,"v":23.6,"l":15,"h":32},{"p":2,"s":"Parotid R","d":38.2,"v":17.4,"l":10,"h":24},{"p":2,"s":"Parotid R","d":43.1,"v":11.3,"l":6,"h":16},{"p":2,"s":"Parotid R","d":48,"v":6.4,"l":3,"h":10},{"p":2,"s":"Parotid R","d":52.4,"v":3.3,"l":1.5,"h":5.5},{"p":2,"s":"Parotid R","d":60,"v":0.8,"l":0,"h":1.5},
{"p":2,"s":"Parotid L","d":0,"v":100,"l":100,"h":100},{"p":2,"s":"Parotid L","d":4,"v":100,"l":100,"h":100},{"p":2,"s":"Parotid L","d":7.9,"v":89,"l":78,"h":97},{"p":2,"s":"Parotid L","d":12.2,"v":75,"l":60,"h":88},{"p":2,"s":"Parotid L","d":16.5,"v":60,"l":46,"h":75},{"p":2,"s":"Parotid L","d":20.8,"v":47,"l":35,"h":62},{"p":2,"s":"Parotid L","d":25.8,"v":36,"l":26,"h":50},{"p":2,"s":"Parotid L","d":30.7,"v":27,"l":19,"h":38},{"p":2,"s":"Parotid L","d":35.7,"v":20,"l":13,"h":29},{"p":2,"s":"Parotid L","d":40.6,"v":15,"l":9,"h":22},{"p":2,"s":"Parotid L","d":45.6,"v":10,"l":5,"h":15},{"p":2,"s":"Parotid L","d":50.5,"v":5,"l":2.5,"h":8},{"p":2,"s":"Parotid L","d":58,"v":1,"l":0,"h":2},
{"p":2,"s":"Oral Cavity","d":0,"v":100,"l":100,"h":100},{"p":2,"s":"Oral Cavity","d":6,"v":100,"l":100,"h":100},{"p":2,"s":"Oral Cavity","d":9.1,"v":95,"l":88,"h":99},{"p":2,"s":"Oral Cavity","d":13.4,"v":85,"l":72,"h":95},{"p":2,"s":"Oral Cavity","d":17.1,"v":73,"l":58,"h":86},{"p":2,"s":"Oral Cavity","d":20.2,"v":60,"l":46,"h":75},{"p":2,"s":"Oral Cavity","d":24.6,"v":45.7,"l":33,"h":60},{"p":2,"s":"Oral Cavity","d":29.5,"v":33,"l":23,"h":46},{"p":2,"s":"Oral Cavity","d":34.4,"v":25,"l":16,"h":35},{"p":2,"s":"Oral Cavity","d":39.4,"v":17.4,"l":10,"h":26},{"p":2,"s":"Oral Cavity","d":44.3,"v":11.3,"l":6,"h":18},{"p":2,"s":"Oral Cavity","d":49.3,"v":6.4,"l":3,"h":11},{"p":2,"s":"Oral Cavity","d":54.2,"v":3.3,"l":1,"h":6},{"p":2,"s":"Oral Cavity","d":62,"v":0.5,"l":0,"h":1.5},
{"p":2,"s":"Larynx","d":0,"v":100,"l":100,"h":100},{"p":2,"s":"Larynx","d":16,"v":100,"l":100,"h":100},{"p":2,"s":"Larynx","d":18.4,"v":96,"l":93,"h":100},{"p":2,"s":"Larynx","d":21.5,"v":85,"l":78,"h":100},{"p":2,"s":"Larynx","d":24.6,"v":76,"l":63,"h":99},{"p":2,"s":"Larynx","d":28.3,"v":66.6,"l":50,"h":95},{"p":2,"s":"Larynx","d":32,"v":55.5,"l":38,"h":86},{"p":2,"s":"Larynx","d":35.7,"v":45.7,"l":28,"h":74},{"p":2,"s":"Larynx","d":38.8,"v":32,"l":18,"h":58},{"p":2,"s":"Larynx","d":42.5,"v":20,"l":8,"h":42},{"p":2,"s":"Larynx","d":46.2,"v":11.3,"l":4,"h":26},{"p":2,"s":"Larynx","d":50.5,"v":7.6,"l":2,"h":12},{"p":2,"s":"Larynx","d":55.5,"v":5,"l":0.5,"h":7},{"p":2,"s":"Larynx","d":61.7,"v":2.7,"l":0,"h":4},{"p":2,"s":"Larynx","d":70,"v":0.5,"l":0,"h":1},
{"p":2,"s":"Body","d":0,"v":100,"l":100,"h":100},{"p":2,"s":"Body","d":0.2,"v":45,"l":40,"h":50},{"p":2,"s":"Body","d":0.6,"v":32,"l":28,"h":36},{"p":2,"s":"Body","d":1.5,"v":27,"l":24,"h":30},{"p":2,"s":"Body","d":4,"v":22,"l":19.5,"h":24.5},{"p":2,"s":"Body","d":9,"v":17.5,"l":15.5,"h":19.5},{"p":2,"s":"Body","d":15,"v":13.5,"l":12,"h":15},{"p":2,"s":"Body","d":21,"v":10,"l":8.8,"h":11.2},{"p":2,"s":"Body","d":27,"v":7,"l":6,"h":8},{"p":2,"s":"Body","d":33,"v":5,"l":4.2,"h":5.8},{"p":2,"s":"Body","d":40,"v":3,"l":2.4,"h":3.6},{"p":2,"s":"Body","d":46,"v":2,"l":1.5,"h":2.5},{"p":2,"s":"Body","d":52,"v":1,"l":0.6,"h":1.4},{"p":2,"s":"Body","d":60,"v":0.5,"l":0.3,"h":0.7},{"p":2,"s":"Body","d":74,"v":0,"l":0,"h":0},
{"p":3,"s":"PTV 70","d":0,"v":100,"l":100,"h":100},{"p":3,"s":"PTV 70","d":66,"v":100,"l":100,"h":100},{"p":3,"s":"PTV 70","d":68,"v":99.5,"l":98,"h":100},{"p":3,"s":"PTV 70","d":69.6,"v":94,"l":88,"h":99},{"p":3,"s":"PTV 70","d":70.5,"v":79,"l":60,"h":98},{"p":3,"s":"PTV 70","d":71.4,"v":54,"l":25,"h":97},{"p":3,"s":"PTV 70","d":72.3,"v":23.6,"l":0,"h":70},{"p":3,"s":"PTV 70","d":73.2,"v":5,"l":0,"h":25},{"p":3,"s":"PTV 70","d":74,"v":1,"l":0,"h":3},
{"p":3,"s":"PTV 56","d":0,"v":100,"l":100,"h":100},{"p":3,"s":"PTV 56","d":56,"v":99.5,"l":99,"h":100},{"p":3,"s":"PTV 56","d":58.1,"v":85,"l":72,"h":98},{"p":3,"s":"PTV 56","d":60.1,"v":79,"l":60,"h":96},{"p":3,"s":"PTV 56","d":63.6,"v":71.5,"l":50,"h":94},{"p":3,"s":"PTV 56","d":66.7,"v":64,"l":42,"h":90},{"p":3,"s":"PTV 56","d":69.2,"v":55,"l":32,"h":80},{"p":3,"s":"PTV 56","d":70.3,"v":44,"l":20,"h":65},{"p":3,"s":"PTV 56","d":71.3,"v":28,"l":10,"h":42},{"p":3,"s":"PTV 56","d":72.3,"v":10,"l":2,"h":18},{"p":3,"s":"PTV 56","d":73.3,"v":2,"l":0,"h":4},{"p":3,"s":"PTV 56","d":74,"v":0.5,"l":0,"h":1},
{"p":3,"s":"PTV 52","d":0,"v":100,"l":100,"h":100},{"p":3,"s":"PTV 52","d":52,"v":100,"l":99,"h":100},{"p":3,"s":"PTV 52","d":53.5,"v":90,"l":75,"h":98},{"p":3,"s":"PTV 52","d":54,"v":60,"l":25,"h":92},{"p":3,"s":"PTV 52","d":54.5,"v":36,"l":5,"h":70},{"p":3,"s":"PTV 52","d":55.5,"v":14,"l":2,"h":30},{"p":3,"s":"PTV 52","d":57.5,"v":7,"l":3,"h":10},{"p":3,"s":"PTV 52","d":60,"v":5,"l":3,"h":6.5},{"p":3,"s":"PTV 52","d":66,"v":2.7,"l":1.5,"h":4},{"p":3,"s":"PTV 52","d":69.7,"v":2,"l":1,"h":3},{"p":3,"s":"PTV 52","d":74,"v":0.5,"l":0,"h":1},
{"p":3,"s":"R1","d":0,"v":100,"l":100,"h":100},{"p":3,"s":"R1","d":50,"v":100,"l":99,"h":100},{"p":3,"s":"R1","d":51.5,"v":99,"l":97,"h":100},{"p":3,"s":"R1","d":53,"v":85,"l":75,"h":92},{"p":3,"s":"R1","d":53.5,"v":60,"l":45,"h":75},{"p":3,"s":"R1","d":54,"v":23.6,"l":15,"h":35},{"p":3,"s":"R1","d":55,"v":5,"l":2,"h":10},{"p":3,"s":"R1","d":56.6,"v":1,"l":0,"h":2},{"p":3,"s":"R1","d":58,"v":0,"l":0,"h":0.5},
{"p":3,"s":"R2","d":0,"v":100,"l":100,"h":100},{"p":3,"s":"R2","d":55,"v":99.5,"l":99,"h":100},{"p":3,"s":"R2","d":56.6,"v":99,"l":97,"h":100},{"p":3,"s":"R2","d":57.6,"v":91,"l":85,"h":96},{"p":3,"s":"R2","d":58.3,"v":60,"l":45,"h":78},{"p":3,"s":"R2","d":59.1,"v":17.4,"l":8,"h":30},{"p":3,"s":"R2","d":59.8,"v":2.7,"l":0.5,"h":6},{"p":3,"s":"R2","d":61,"v":0.3,"l":0,"h":1},{"p":3,"s":"R2","d":62,"v":0,"l":0,"h":0},
{"p":3,"s":"Cord","d":0,"v":100,"l":100,"h":100},{"p":3,"s":"Cord","d":1,"v":100,"l":98,"h":100},{"p":3,"s":"Cord","d":2,"v":80,"l":65,"h":92},{"p":3,"s":"Cord","d":2.7,"v":60,"l":48,"h":80},{"p":3,"s":"Cord","d":5.3,"v":49.4,"l":40,"h":65},{"p":3,"s":"Cord","d":7.8,"v":45.7,"l":36,"h":62},{"p":3,"s":"Cord","d":12.9,"v":41,"l":32,"h":58},{"p":3,"s":"Cord","d":17,"v":37,"l":27,"h":52},{"p":3,"s":"Cord","d":20.5,"v":29.5,"l":20,"h":44},{"p":3,"s":"Cord","d":24,"v":20,"l":10,"h":32},{"p":3,"s":"Cord","d":27,"v":11.3,"l":2,"h":18},{"p":3,"s":"Cord","d":29.1,"v":5,"l":0,"h":8},{"p":3,"s":"Cord","d":31.2,"v":2,"l":0,"h":3},{"p":3,"s":"Cord","d":34.2,"v":0.5,"l":0,"h":1},
{"p":3,"s":"Brainstem","d":0,"v":100,"l":100,"h":100},{"p":3,"s":"Brainstem","d":0.3,"v":65,"l":55,"h":75},{"p":3,"s":"Brainstem","d":1,"v":58,"l":48,"h":70},{"p":3,"s":"Brainstem","d":3,"v":56,"l":46,"h":67},{"p":3,"s":"Brainstem","d":8,"v":54,"l":44,"h":65},{"p":3,"s":"Brainstem","d":13,"v":52,"l":42,"h":63},{"p":3,"s":"Brainstem","d":18,"v":49,"l":38,"h":60},{"p":3,"s":"Brainstem","d":22,"v":44,"l":32,"h":56},{"p":3,"s":"Brainstem","d":25,"v":33,"l":20,"h":48},{"p":3,"s":"Brainstem","d":27,"v":20,"l":10,"h":35},{"p":3,"s":"Brainstem","d":28.5,"v":12,"l":5,"h":25},{"p":3,"s":"Brainstem","d":30.2,"v":5,"l":1,"h":12},{"p":3,"s":"Brainstem","d":33,"v":1.5,"l":0,"h":4},{"p":3,"s":"Brainstem","d":36,"v":0.3,"l":0,"h":1},
{"p":3,"s":"Parotid R","d":0,"v":100,"l":100,"h":100},{"p":3,"s":"Parotid R","d":1.5,"v":100,"l":100,"h":100},{"p":3,"s":"Parotid R","d":4,"v":95,"l":85,"h":99},{"p":3,"s":"Parotid R","d":8,"v":81,"l":68,"h":93},{"p":3,"s":"Parotid R","d":13,"v":65,"l":52,"h":80},{"p":3,"s":"Parotid R","d":18,"v":53,"l":41,"h":67},{"p":3,"s":"Parotid R","d":23,"v":42,"l":31,"h":55},{"p":3,"s":"Parotid R","d":28,"v":33,"l":24,"h":44},{"p":3,"s":"Parotid R","d":33,"v":25,"l":17,"h":34},{"p":3,"s":"Parotid R","d":38,"v":18,"l":12,"h":26},{"p":3,"s":"Parotid R","d":43,"v":12,"l":7,"h":18},{"p":3,"s":"Parotid R","d":48,"v":7,"l":4,"h":11},{"p":3,"s":"Parotid R","d":53,"v":4,"l":2,"h":6},{"p":3,"s":"Parotid R","d":58,"v":1.5,"l":0.5,"h":3},{"p":3,"s":"Parotid R","d":63,"v":0.5,"l":0,"h":1},
{"p":3,"s":"Parotid L","d":0,"v":100,"l":100,"h":100},{"p":3,"s":"Parotid L","d":3,"v":100,"l":100,"h":100},{"p":3,"s":"Parotid L","d":6,"v":96,"l":88,"h":99},{"p":3,"s":"Parotid L","d":10,"v":85,"l":74,"h":95},{"p":3,"s":"Parotid L","d":14,"v":72,"l":60,"h":84},{"p":3,"s":"Parotid L","d":18,"v":60,"l":48,"h":72},{"p":3,"s":"Parotid L","d":22,"v":50,"l":39,"h":61},{"p":3,"s":"Parotid L","d":27,"v":39,"l":30,"h":50},{"p":3,"s":"Parotid L","d":32,"v":30,"l":22,"h":39},{"p":3,"s":"Parotid L","d":37,"v":22,"l":16,"h":30},{"p":3,"s":"Parotid L","d":42,"v":15,"l":10,"h":21},{"p":3,"s":"Parotid L","d":47,"v":9,"l":6,"h":13},{"p":3,"s":"Parotid L","d":52,"v":5,"l":3,"h":7},{"p":3,"s":"Parotid L","d":57,"v":2,"l":1,"h":3},{"p":3,"s":"Parotid L","d":62,"v":0.5,"l":0,"h":1},
{"p":3,"s":"Oral Cavity","d":0,"v":100,"l":100,"h":100},{"p":3,"s":"Oral Cavity","d":5,"v":100,"l":100,"h":100},{"p":3,"s":"Oral Cavity","d":8,"v":97,"l":92,"h":100},{"p":3,"s":"Oral Cavity","d":12,"v":88,"l":78,"h":96},{"p":3,"s":"Oral Cavity","d":16,"v":75,"l":63,"h":87},{"p":3,"s":"Oral Cavity","d":20,"v":62,"l":50,"h":75},{"p":3,"s":"Oral Cavity","d":25,"v":48,"l":37,"h":61},{"p":3,"s":"Oral Cavity","d":30,"v":37,"l":27,"h":49},{"p":3,"s":"Oral Cavity","d":35,"v":28,"l":19,"h":38},{"p":3,"s":"Oral Cavity","d":40,"v":20,"l":13,"h":28},{"p":3,"s":"Oral Cavity","d":45,"v":13,"l":8,"h":19},{"p":3,"s":"Oral Cavity","d":50,"v":7.5,"l":4,"h":11},{"p":3,"s":"Oral Cavity","d":55,"v":3.5,"l":1.5,"h":5},{"p":3,"s":"Oral Cavity","d":60,"v":1,"l":0,"h":2},
{"p":3,"s":"Larynx","d":0,"v":100,"l":100,"h":100},{"p":3,"s":"Larynx","d":13,"v":100,"l":100,"h":100},{"p":3,"s":"Larynx","d":18,"v":97.5,"l":93,"h":100},{"p":3,"s":"Larynx","d":22,"v":91,"l":82,"h":100},{"p":3,"s":"Larynx","d":25.6,"v":83,"l":73,"h":100},{"p":3,"s":"Larynx","d":29.7,"v":73,"l":58,"h":96},{"p":3,"s":"Larynx","d":33.2,"v":63,"l":45,"h":90},{"p":3,"s":"Larynx","d":36.3,"v":52,"l":34,"h":80},{"p":3,"s":"Larynx","d":39.3,"v":38,"l":24,"h":62},{"p":3,"s":"Larynx","d":42.8,"v":25,"l":13,"h":42},{"p":3,"s":"Larynx","d":46.3,"v":15,"l":6,"h":26},{"p":3,"s":"Larynx","d":49.3,"v":9,"l":3,"h":14},{"p":3,"s":"Larynx","d":53.3,"v":4,"l":1,"h":7},{"p":3,"s":"Larynx","d":60,"v":1.5,"l":0,"h":2.5},{"p":3,"s":"Larynx","d":70,"v":0.3,"l":0,"h":0.5},
{"p":3,"s":"Body","d":0,"v":100,"l":100,"h":100},{"p":3,"s":"Body","d":0.2,"v":45,"l":40,"h":50},{"p":3,"s":"Body","d":0.6,"v":32,"l":28,"h":36},{"p":3,"s":"Body","d":1.5,"v":27,"l":24,"h":30},{"p":3,"s":"Body","d":4,"v":22,"l":19.5,"h":24.5},{"p":3,"s":"Body","d":9,"v":17.5,"l":15.5,"h":19.5},{"p":3,"s":"Body","d":15,"v":13.5,"l":12,"h":15},{"p":3,"s":"Body","d":21,"v":10,"l":8.8,"h":11.2},{"p":3,"s":"Body","d":27,"v":7,"l":6,"h":8},{"p":3,"s":"Body","d":33,"v":5,"l":4.2,"h":5.8},{"p":3,"s":"Body","d":40,"v":3,"l":2.4,"h":3.6},{"p":3,"s":"Body","d":46,"v":2,"l":1.5,"h":2.5},{"p":3,"s":"Body","d":52,"v":1,"l":0.6,"h":1.4},{"p":3,"s":"Body","d":60,"v":0.5,"l":0.3,"h":0.7},{"p":3,"s":"Body","d":74,"v":0,"l":0,"h":0}
]},
"vconcat":[
{"data":{"name":"pro"},
"title":{"text":"Prostate","orient":"left","fontSize":34,"anchor":"middle","offset":8},
"facet":{"column":{"field":"p","type":"ordinal","header":{"title":null,"labelExpr":"datum.value == 1 ? 'Manual VMAT' : datum.value == 2 ? 'Meta VMAT' : 'MPBV'","labelFontSize":42,"labelPadding":4}}},
"spacing":{"column":42},
"resolve":{"axis":{"y":"independent"}},
"spec":{"width":494,"height":284,
"layer":[
{"mark":{"type":"area","interpolate":"monotone","opacity":0.25,"clip":true},
"encoding":{"x":{"field":"d","type":"quantitative","scale":{"domain":[-1,78.3],"nice":false,"zero":false},"axis":{"title":"Dose (Gy)","values":[0,10,20,30,40,50,60,70],"titleFontSize":11,"titlePadding":3}},
"y":{"field":"l","type":"quantitative","scale":{"domain":[-2.5,102.5],"nice":false,"zero":false},"axis":{"title":"Volume (%)","values":[0,20,40,60,80,100],"titleFontSize":9,"titlePadding":3}},
"y2":{"field":"h"},
"fill":{"field":"s","type":"nominal","scale":{"domain":["PTV","Rectum","Bladder","FH R","FH L","Body"],"range":["#f7934c","#7a22d6","#3f93de","#5ee6c8","#9de69b","#e8201e"]},
"legend":{"title":null,"orient":"none","legendX":1661,"legendY":44,"symbolType":"square","symbolSize":180,"symbolOpacity":0.8,"symbolStrokeWidth":0,"labelFontSize":15,"rowPadding":4}}}},
{"mark":{"type":"line","interpolate":"monotone","strokeWidth":2,"clip":true},
"encoding":{"x":{"field":"d","type":"quantitative"},
"y":{"field":"v","type":"quantitative","axis":{"title":"Volume (%)"}},
"stroke":{"field":"s","type":"nominal","scale":{"domain":["PTV","Rectum","Bladder","FH R","FH L","Body"],"range":["#f7934c","#7a22d6","#3f93de","#5ee6c8","#9de69b","#e8201e"]},"legend":null}}}
]}},
{"data":{"name":"hn"},
"title":{"text":"Head and Neck","orient":"left","fontSize":34,"anchor":"middle","offset":8},
"facet":{"column":{"field":"p","type":"ordinal","header":{"title":null,"labels":false}}},
"spacing":{"column":42},
"resolve":{"axis":{"y":"independent"}},
"spec":{"width":494,"height":284,
"layer":[
{"transform":[{"filter":"datum.s != 'R1' && datum.s != 'R2'"}],
"mark":{"type":"area","interpolate":"monotone","opacity":0.24,"clip":true},
"encoding":{"x":{"field":"d","type":"quantitative","scale":{"domain":[-0.7,74],"nice":false,"zero":false},"axis":{"title":"Dose (Gy)","values":[0,10,20,30,40,50,60,70],"titleFontSize":11,"titlePadding":3}},
"y":{"field":"l","type":"quantitative","scale":{"domain":[-2.5,102.5],"nice":false,"zero":false},"axis":{"title":"Volume (%)","values":[0,20,40,60,80,100],"titleFontSize":9,"titlePadding":3}},
"y2":{"field":"h"},
"fill":{"field":"s","type":"nominal","scale":{"domain":["PTV 70","PTV 56","PTV 52","Cord","Brainstem","Parotid R","Parotid L","Oral Cavity","Larynx","Body"],"range":["#3d7ef5","#5a48f5","#7a10f5","#3ee0d5","#1ab8e6","#5cf0c8","#7af0a0","#b5e07a","#f5b868","#ff7a3a"]},
"legend":{"title":null,"orient":"none","legendX":1661,"legendY":47,"symbolType":"square","symbolSize":180,"symbolOpacity":0.8,"symbolStrokeWidth":0,"labelFontSize":15,"rowPadding":4}}}},
{"transform":[{"filter":"datum.s == 'R1' || datum.s == 'R2'"}],
"mark":{"type":"area","interpolate":"monotone","opacity":0.22,"color":"#ff2a2a","clip":true},
"encoding":{"x":{"field":"d","type":"quantitative"},"y":{"field":"l","type":"quantitative","axis":{"title":"Volume (%)"}},"y2":{"field":"h"},"detail":{"field":"s"}}},
{"transform":[{"filter":"datum.s != 'R1' && datum.s != 'R2'"}],
"mark":{"type":"line","interpolate":"monotone","strokeWidth":2,"clip":true},
"encoding":{"x":{"field":"d","type":"quantitative"},
"y":{"field":"v","type":"quantitative","axis":{"title":"Volume (%)"}},
"stroke":{"field":"s","type":"nominal","scale":{"domain":["PTV 70","PTV 56","PTV 52","Cord","Brainstem","Parotid R","Parotid L","Oral Cavity","Larynx","Body"],"range":["#3d7ef5","#5a48f5","#7a10f5","#3ee0d5","#1ab8e6","#5cf0c8","#7af0a0","#b5e07a","#f5b868","#ff7a3a"]},"legend":null}}},
{"transform":[{"filter":"datum.s == 'R1' || datum.s == 'R2'"}],
"mark":{"type":"line","interpolate":"monotone","strokeWidth":2.2,"color":"#ff1a1a","clip":true},
"encoding":{"x":{"field":"d","type":"quantitative"},"y":{"field":"v","type":"quantitative","axis":{"title":"Volume (%)"}},"detail":{"field":"s"}}}
]}}
],
"spacing":56,
"resolve":{"scale":{"x":"independent","fill":"independent","stroke":"independent"}}
}
